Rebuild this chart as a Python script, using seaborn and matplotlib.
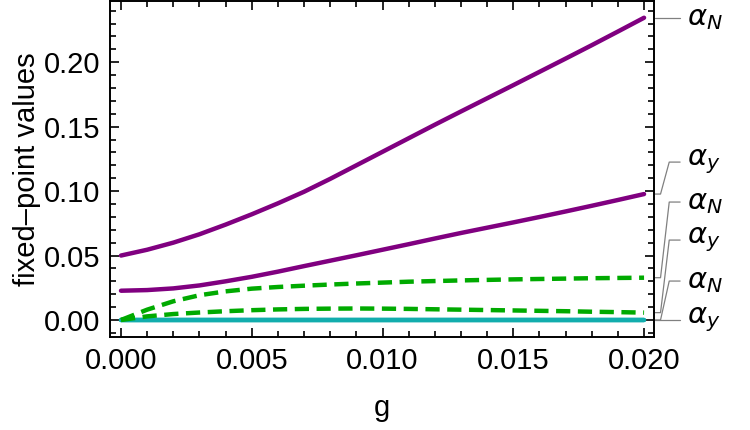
import matplotlib
matplotlib.use("Agg")
import matplotlib.pyplot as plt
import matplotlib.ticker as mticker
import seaborn as sns
import numpy as np

# coupling values
g = [0.000, 0.001, 0.002, 0.003, 0.004, 0.005, 0.006, 0.007, 0.008, 0.009, 0.010,
     0.011, 0.012, 0.013, 0.014, 0.015, 0.016, 0.017, 0.018, 0.019, 0.020]

# fixed points
purple_N = [0.0500, 0.0545, 0.0600, 0.0665, 0.0740, 0.0820, 0.0905, 0.0995, 0.1095, 0.1200, 0.1305,
            0.1410, 0.1515, 0.1618, 0.1720, 0.1822, 0.1925, 0.2028, 0.2132, 0.2238, 0.2345]
purple_y = [0.0227, 0.0232, 0.0245, 0.0268, 0.0300, 0.0335, 0.0375, 0.0418, 0.0460, 0.0502, 0.0545,
            0.0588, 0.0632, 0.0675, 0.0716, 0.0757, 0.0799, 0.0842, 0.0886, 0.0931, 0.0977]
green_N = [0.0000, 0.0080, 0.0145, 0.0192, 0.0222, 0.0243, 0.0256, 0.0266, 0.0275, 0.0283, 0.0290,
           0.0297, 0.0302, 0.0307, 0.0311, 0.0315, 0.0318, 0.0321, 0.0324, 0.0326, 0.0328]
green_y = [0.0000, 0.0028, 0.0046, 0.0058, 0.0068, 0.0076, 0.0082, 0.0086, 0.0088, 0.0089, 0.0088,
           0.0086, 0.0083, 0.0080, 0.0077, 0.0074, 0.0071, 0.0068, 0.0064, 0.0061, 0.0057]
cyan_N = [0.0] * len(g)
cyan_y = [0.0] * len(g)

labels = [r"$\alpha_N$", r"$\alpha_y$", r"$\alpha_N$", r"$\alpha_y$", r"$\alpha_N$", r"$\alpha_y$"]

purple = "#800080"
green = "#00aa00"
cyan = "#12adad"

sns.set_theme(style="ticks")
plt.rcParams["font.family"] = ["Liberation Sans", "DejaVu Sans"]
plt.rcParams["mathtext.fontset"] = "dejavusans"
plt.rcParams["text.color"] = "black"
plt.rcParams["axes.labelcolor"] = "black"

fig = plt.figure(figsize=(7.5, 4.3), dpi=100)
ax = fig.add_axes([0.1467, 0.2163, 0.7253, 0.7814])

lw = 3.2
sns.lineplot(x=g, y=cyan_N, color=cyan, lw=lw, ax=ax)
sns.lineplot(x=g, y=cyan_y, color=cyan, lw=lw, ax=ax)
sns.lineplot(x=g, y=green_y, color=green, lw=lw, linestyle=(0, (3.2, 1.7)), ax=ax)
sns.lineplot(x=g, y=green_N, color=green, lw=lw, linestyle=(0, (3.2, 1.7)), ax=ax)
sns.lineplot(x=g, y=purple_y, color=purple, lw=lw, ax=ax)
sns.lineplot(x=g, y=purple_N, color=purple, lw=lw, ax=ax)

ax.set_xlim(-0.00042, 0.02038)
ax.set_ylim(-0.0132, 0.2475)

ax.xaxis.set_major_locator(mticker.MultipleLocator(0.005))
ax.xaxis.set_minor_locator(mticker.MultipleLocator(0.001))
ax.yaxis.set_major_locator(mticker.MultipleLocator(0.05))
ax.yaxis.set_minor_locator(mticker.MultipleLocator(0.01))
ax.xaxis.set_major_formatter(mticker.FormatStrFormatter("%.3f"))
ax.yaxis.set_major_formatter(mticker.FormatStrFormatter("%.2f"))

ax.tick_params(which="both", direction="in", top=True, right=True, width=1.2,
               colors="black", labelcolor="black", labelsize=21)
ax.tick_params(which="major", length=6.5, pad=7)
ax.tick_params(which="minor", length=4)
for s in ax.spines.values():
    s.set_linewidth(1.4)
    s.set_color("black")

ax.set_xlabel("g", fontsize=21, labelpad=14)
ax.set_ylabel("fixed\u2013point values", fontsize=21, labelpad=2)

# leader lines and labels on the right
ends = [purple_N[-1], purple_y[-1], green_N[-1], green_y[-1], cyan_N[-1], cyan_y[-1]]
label_y = [purple_N[-1], 0.1225, 0.0915, 0.062, 0.0302, 0.0]
trans = ax.get_yaxis_transform()
for lab, e, ly in zip(labels, ends, label_y):
    ax.plot([1.002, 1.012, 1.028, 1.048], [e, e, ly, ly], color="#808080", lw=0.9,
            transform=trans, clip_on=False)
    ax.text(1.06, ly, lab, transform=trans, fontsize=21, va="center", ha="left")

fig.savefig("out.png", dpi=100)
